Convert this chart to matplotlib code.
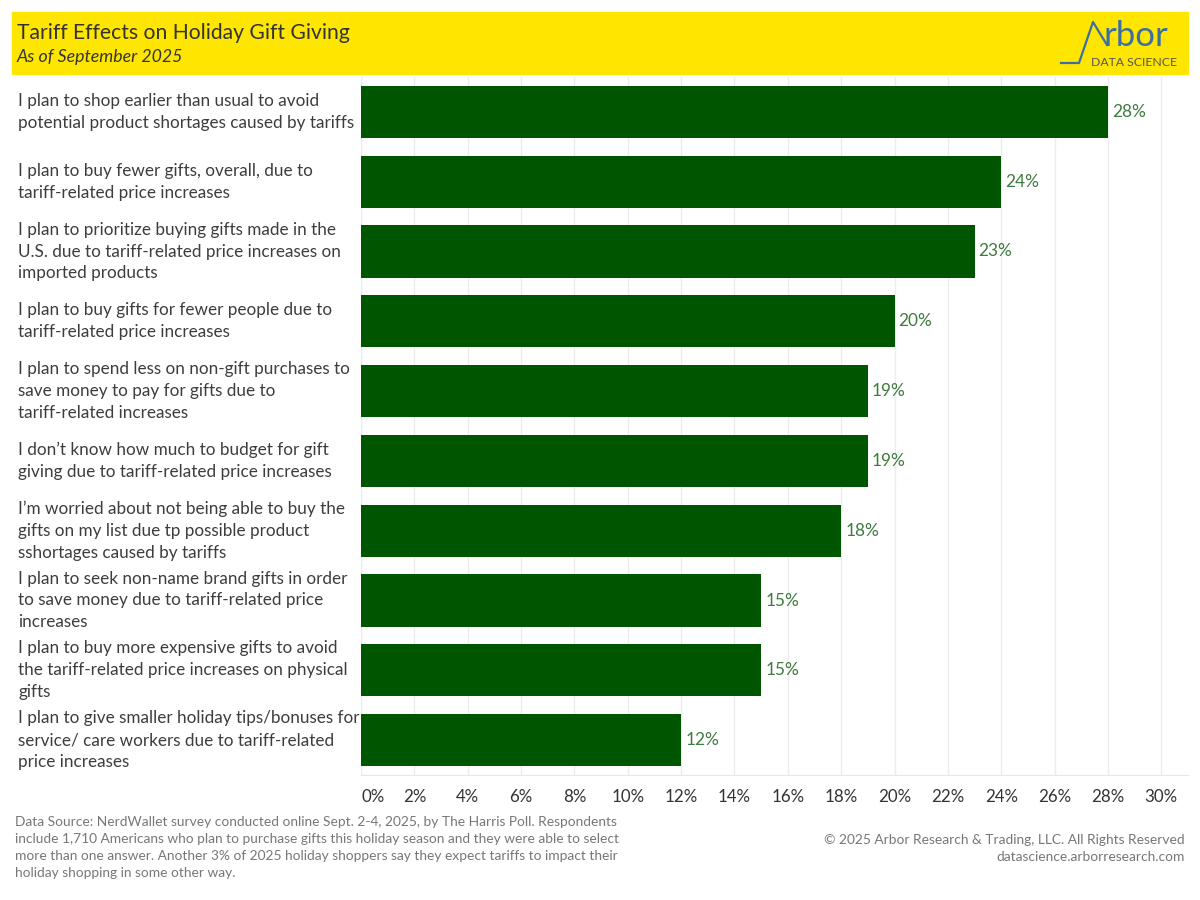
import matplotlib.pyplot as plt
from matplotlib.patches import Rectangle
from matplotlib.lines import Line2D
from matplotlib.ticker import MultipleLocator

plt.rcParams['font.family'] = ['Lato', 'DejaVu Sans']

# data
labels = [
    "I plan to shop earlier than usual to avoid\npotential product shortages caused by tariffs",
    "I plan to buy fewer gifts, overall, due to\ntariff-related price increases",
    "I plan to prioritize buying gifts made in the\nU.S. due to tariff-related price increases on\nimported products",
    "I plan to buy gifts for fewer people due to\ntariff-related price increases",
    "I plan to spend less on non-gift purchases to\nsave money to pay for gifts due to\ntariff-related increases",
    "I don\u2019t know how much to budget for gift\ngiving due to tariff-related price increases",
    "I\u2019m worried about not being able to buy the\ngifts on my list due tp possible product\nsshortages caused by tariffs",
    "I plan to seek non-name brand gifts in order\nto save money due to tariff-related price\nincreases",
    "I plan to buy more expensive gifts to avoid\nthe tariff-related price increases on physical\ngifts",
    "I plan to give smaller holiday tips/bonuses for\nservice/ care workers due to tariff-related\nprice increases",
]
values = [28, 24, 23, 20, 19, 19, 18, 15, 15, 12]

bar_color = "#005500"
label_color = "#3d3d3d"

fig = plt.figure(figsize=(12, 9), dpi=100)
ax = fig.add_axes([361 / 1200, 1 - 775 / 900, (1188 - 361) / 1200, (775 - 77) / 900])

y = list(range(len(values)))
ax.barh(y, values, height=0.745, color=bar_color, zorder=3)
ax.set_ylim(len(values) - 0.5, -0.5)
ax.set_xlim(0, 31)

for yi, v in zip(y, values):
    ax.text(v + 0.15, yi, f"{v}%", va="center", ha="left", fontsize=12.4, color="#3f7a3f")

ax.xaxis.set_major_locator(MultipleLocator(2))
ticks = list(range(0, 31, 2))
ax.set_xticks(ticks)
ax.set_xticklabels([f"{t}%" for t in ticks], fontsize=12.2, color="#333333")
ax.get_xticklabels()[0].set_ha("left")
ax.tick_params(axis="x", length=0, pad=10)
ax.grid(axis="x", color="#ececec", linewidth=1, zorder=0)

ax.set_yticks(y)
ax.set_yticklabels([])
ax.tick_params(axis="y", length=0)
for yi, lab in zip(y, labels):
    ax.text(-343 / 26.68, yi, lab, transform=ax.transData, ha="left", va="center",
            fontsize=12.35, color=label_color, linespacing=1.45, zorder=5)

for s in ["top", "right", "left"]:
    ax.spines[s].set_visible(False)
ax.spines["bottom"].set_color("#e6e6e6")
ax.axvline(0, color="#eeeeee", linewidth=1, zorder=1)

# header band
fig.patches.append(Rectangle((12 / 1200, 1 - 74 / 900), 1176 / 1200, 62 / 900,
                             transform=fig.transFigure, color="#ffe600", zorder=0))
fig.text(17 / 1200, 1 - 33 / 900, "Tariff Effects on Holiday Gift Giving", fontsize=15.2,
         color="#333333", va="center", ha="left")
fig.text(17 / 1200, 1 - 57 / 900, "As of September 2025", fontsize=12.8, style="italic",
         color="#333333", va="center", ha="left")

# logo
lx = [1061, 1079, 1093, 1107]
ly = [63, 63, 22, 45]
fig.lines.append(Line2D([p / 1200 for p in lx], [1 - p / 900 for p in ly],
                        transform=fig.transFigure, color="#3b6fa3", linewidth=1.6))
fig.text(1104 / 1200, 1 - 46 / 900, "rbor", fontsize=25, color="#3b6fa3",
         ha="left", va="baseline")
fig.text(1177 / 1200, 1 - 62 / 900, "DATA SCIENCE", fontsize=8.8, color="#555555",
         ha="right", va="center")

# footer
footer = ("Data Source: NerdWallet survey conducted online Sept. 2-4, 2025, by The Harris Poll. Respondents\n"
          "include 1,710 Americans who plan to purchase gifts this holiday season and they were able to select\n"
          "more than one answer. Another 3% of 2025 holiday shoppers say they expect tariffs to impact their\n"
          "holiday shopping in some other way.")
fig.text(15 / 1200, 1 - 816 / 900, footer, fontsize=9.9, color="#777777", ha="left", va="top",
         linespacing=1.5)
fig.text(1185 / 1200, 1 - 834 / 900,
         "\u00a9 2025 Arbor Research & Trading, LLC. All Rights Reserved\ndatascience.arborresearch.com",
         fontsize=9.9, color="#777777", ha="right", va="top", linespacing=1.5, multialignment="right")

fig.savefig("out.png", dpi=100)
